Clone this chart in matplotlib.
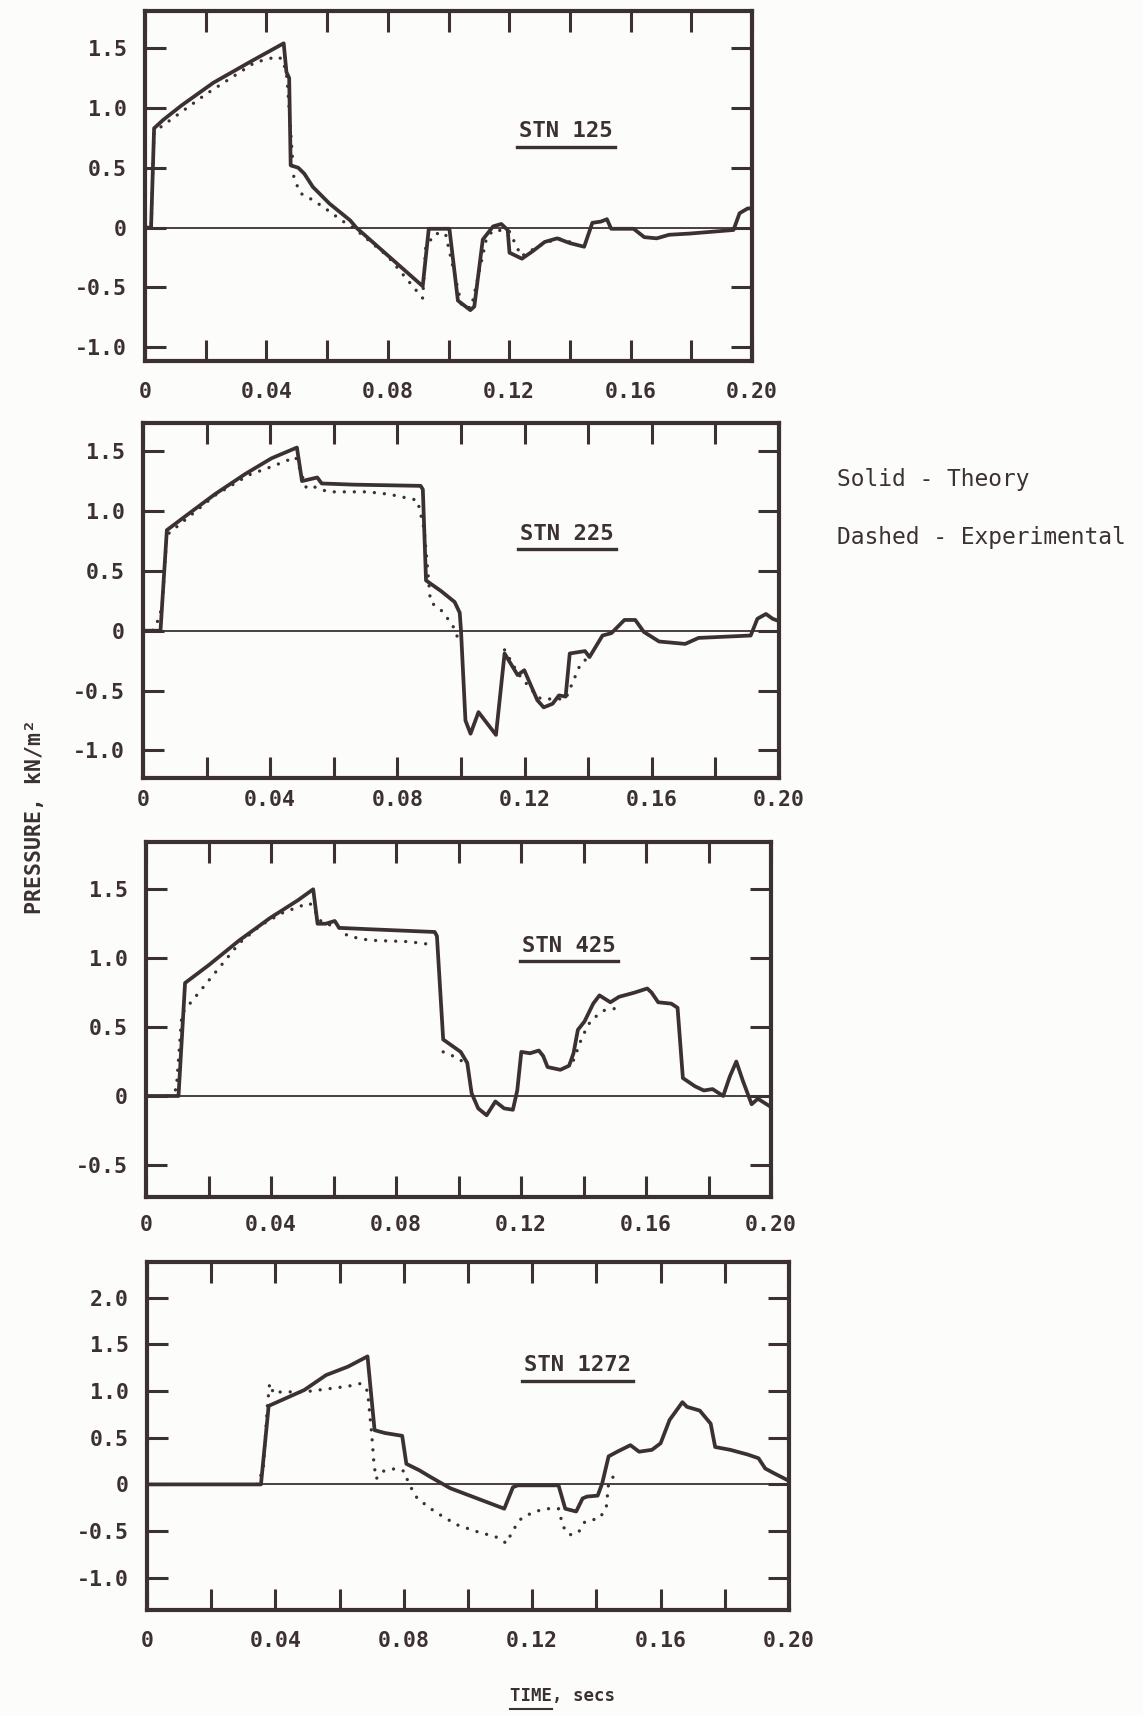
import numpy as np
import matplotlib
matplotlib.use('Agg')
import matplotlib.pyplot as plt
from matplotlib.lines import Line2D

nan = np.nan

# STN 125
t_th_125 = [0.0, 0.002, 0.003, 0.006, 0.012, 0.0225, 0.035, 0.0457, 0.0466, 0.0475, 0.048, 0.0505,
            0.0525, 0.0553, 0.0608, 0.0676, 0.0696, 0.0915, 0.0935, 0.1003, 0.1031, 0.1072, 0.1085,
            0.1113, 0.1147, 0.1174, 0.1195, 0.1201, 0.1242, 0.1276, 0.1317, 0.1358, 0.1400, 0.1447,
            0.1474, 0.1502, 0.1522, 0.1536, 0.1610, 0.1645, 0.1686, 0.1727, 0.1795, 0.1939, 0.1959,
            0.1986, 0.2000]
p_th_125 = [0.0, 0.0, 0.83, 0.90, 1.02, 1.21, 1.39, 1.54, 1.30, 1.25, 0.52, 0.50,
            0.45, 0.34, 0.20, 0.06, 0.0, -0.49, -0.01, -0.01, -0.61, -0.69, -0.66,
            -0.10, 0.01, 0.03, -0.02, -0.21, -0.26, -0.20, -0.12, -0.09, -0.13, -0.16,
            0.04, 0.05, 0.07, -0.01, -0.01, -0.08, -0.09, -0.06, -0.05, -0.02, 0.12,
            0.16, 0.16]
t_ex_125 = [0.0, 0.002, 0.003, 0.0198, 0.0362, 0.0437, 0.0455, 0.0468, 0.049, 0.051, 0.0553, 0.0594,
            0.0648, 0.0696, 0.080, 0.0915, 0.0925, 0.0956, 0.099, 0.1044, 0.1075, 0.1126, 0.1150,
            0.1200, 0.1240, 0.1300, 0.1360, 0.1400]
p_ex_125 = [0.0, 0.0, 0.80, 1.11, 1.38, 1.43, 1.40, 1.25, 0.43, 0.29, 0.23, 0.16,
            0.06, -0.02, -0.24, -0.59, -0.16, -0.05, -0.05, -0.66, -0.67, -0.08, -0.02,
            -0.03, -0.24, -0.15, -0.09, -0.12]

# STN 225
t_th_225 = [0.0, 0.0055, 0.0075, 0.013, 0.0226, 0.0322, 0.0404, 0.0484, 0.050, 0.0548, 0.0562, 0.0664,
            0.0873, 0.0880, 0.089, 0.0938, 0.098, 0.0996, 0.100, 0.1014, 0.103, 0.1055, 0.111,
            0.1137, 0.1178, 0.1199, 0.124, 0.126, 0.1288, 0.1308, 0.1329, 0.1342, 0.139, 0.1404,
            0.1445, 0.1473, 0.1514, 0.1548, 0.1575, 0.1623, 0.1705, 0.1747, 0.1911, 0.1932, 0.1959,
            0.198, 0.200]
p_th_225 = [0.0, 0.0, 0.84, 0.95, 1.14, 1.31, 1.44, 1.53, 1.25, 1.28, 1.23, 1.22,
            1.21, 1.18, 0.42, 0.33, 0.24, 0.15, 0.0, -0.75, -0.86, -0.68, -0.87,
            -0.19, -0.37, -0.33, -0.58, -0.64, -0.61, -0.54, -0.55, -0.19, -0.17, -0.22,
            -0.04, -0.02, 0.09, 0.09, -0.01, -0.09, -0.11, -0.06, -0.04, 0.10, 0.14,
            0.10, 0.08]
t_ex_225 = [0.0, 0.003, 0.0048, 0.006, 0.0075, 0.0226, 0.0332, 0.0404, 0.048, 0.0497, 0.0514, 0.054,
            0.0582, 0.0705, 0.0774, 0.0863, 0.0884, 0.0904, 0.0938, 0.0973, 0.0993, nan,
            0.1137, 0.118, 0.124, 0.1253, 0.130, 0.1329, 0.1377, 0.1404]
p_ex_225 = [0.0, 0.0, 0.09, 0.20, 0.80, 1.13, 1.30, 1.37, 1.45, 1.32, 1.19, 1.20,
            1.16, 1.16, 1.14, 1.09, 0.85, 0.24, 0.17, 0.05, -0.08, nan,
            -0.16, -0.36, -0.55, -0.57, -0.57, -0.57, -0.27, -0.22]

# STN 425
t_th_425 = [0.0, 0.0104, 0.0125, 0.0201, 0.0299, 0.0396, 0.0486, 0.0535, 0.0549, 0.0575, 0.0604, 0.0618,
            0.0715, 0.0924, 0.0931, 0.0951, 0.1007, 0.1028, 0.1042, 0.1063, 0.109, 0.1118, 0.1146,
            0.1174, 0.1188, 0.1201, 0.1229, 0.1257, 0.1271, 0.1285, 0.1326, 0.1354, 0.1368, 0.1382,
            0.1403, 0.1431, 0.1451, 0.1486, 0.1514, 0.1563, 0.1604, 0.1618, 0.1639, 0.1681, 0.1701,
            0.1718, 0.1757, 0.1785, 0.1813, 0.1847, 0.1868, 0.1889, 0.191, 0.1938, 0.1958, 0.1993]
p_th_425 = [0.0, 0.0, 0.82, 0.95, 1.13, 1.29, 1.42, 1.50, 1.25, 1.25, 1.27, 1.22,
            1.21, 1.19, 1.16, 0.41, 0.32, 0.24, 0.02, -0.09, -0.14, -0.04, -0.09,
            -0.10, 0.04, 0.32, 0.31, 0.33, 0.29, 0.21, 0.19, 0.22, 0.31, 0.48,
            0.54, 0.67, 0.73, 0.68, 0.72, 0.75, 0.78, 0.75, 0.68, 0.67, 0.64,
            0.13, 0.07, 0.04, 0.05, 0.00, 0.14, 0.25, 0.11, -0.06, -0.02, -0.07]
t_ex_425 = [0.0069, 0.0083, 0.0097, 0.0115, 0.0299, 0.0368, 0.0438, 0.0521, 0.0535, 0.0549, 0.0563,
            0.0618, 0.0646, 0.0715, 0.084, 0.091, nan, 0.0951, 0.0993, 0.102, nan,
            0.1368, 0.1396, 0.1424, 0.1465, 0.1514]
p_ex_425 = [0.0, 0.02, 0.05, 0.60, 1.11, 1.24, 1.33, 1.40, 1.38, 1.30, 1.26,
            1.22, 1.16, 1.13, 1.12, 1.10, nan, 0.32, 0.28, 0.24, nan,
            0.26, 0.43, 0.55, 0.62, 0.64]

# STN 1272
t_th_1272 = [0.0, 0.0355, 0.0379, 0.049, 0.0558, 0.0626, 0.0687, 0.070, 0.0709, 0.0741, 0.0795, 0.0808,
             0.0849, 0.0883, 0.0944, 0.1113, 0.114, 0.1155, 0.1282, 0.1303, 0.1337, 0.1357, 0.1371,
             0.1404, 0.1418, 0.1438, 0.1465, 0.1506, 0.1533, 0.1573, 0.160, 0.1628, 0.1668, 0.1682,
             0.1722, 0.1756, 0.177, 0.1817, 0.1871, 0.1905, 0.1926, 0.1953, 0.1993]
p_th_1272 = [0.0, 0.0, 0.84, 1.01, 1.17, 1.26, 1.37, 0.90, 0.58, 0.55, 0.52, 0.22,
             0.15, 0.08, -0.04, -0.26, -0.03, -0.01, -0.01, -0.26, -0.29, -0.15, -0.13,
             -0.12, 0.01, 0.30, 0.35, 0.42, 0.35, 0.37, 0.44, 0.69, 0.88, 0.83,
             0.79, 0.65, 0.40, 0.37, 0.32, 0.28, 0.17, 0.12, 0.05]
t_ex_1272 = [0.0341, 0.0362, 0.0375, 0.0382, 0.0395, 0.0416, 0.049, 0.0558, 0.0626, 0.0666, 0.0687,
             0.070, 0.0707, 0.0714, 0.0734, 0.0775, 0.0802, 0.0815, 0.0842, 0.0896, 0.0964, 0.1032,
             0.1086, 0.112, 0.114, 0.1167, 0.1208, 0.1248, 0.1282, 0.1296, 0.1316, 0.1343, 0.1364,
             0.1411, 0.1431, 0.1438, 0.1452, 0.1472]
p_ex_1272 = [0.0, 0.15, 0.84, 1.08, 0.97, 0.99, 0.99, 1.02, 1.05, 1.08, 1.00,
             0.54, 0.22, 0.06, 0.14, 0.17, 0.14, 0.01, -0.15, -0.29, -0.43, -0.51,
             -0.56, -0.63, -0.49, -0.36, -0.29, -0.26, -0.26, -0.45, -0.54, -0.52, -0.40,
             -0.36, -0.24, 0.01, 0.08, 0.14]

x_ticks = [0.0, 0.02, 0.04, 0.06, 0.08, 0.10, 0.12, 0.14, 0.16, 0.18, 0.20]
x_labels = ['0', '', '0.04', '', '0.08', '', '0.12', '', '0.16', '', '0.20']
y_ticks_a = [1.5, 1.0, 0.5, 0.0, -0.5, -1.0]
y_labels_a = ['1.5', '1.0', '0.5', '0', '-0.5', '-1.0']
y_ticks_c = [1.5, 1.0, 0.5, 0.0, -0.5]
y_labels_c = ['1.5', '1.0', '0.5', '0', '-0.5']
y_ticks_d = [2.0, 1.5, 1.0, 0.5, 0.0, -0.5, -1.0]
y_labels_d = ['2.0', '1.5', '1.0', '0.5', '0', '-0.5', '-1.0']
stations = ['STN 125', 'STN 225', 'STN 425', 'STN 1272']

W, H = 1143, 1716
INK = '#3b3131'
BG = '#fcfcfa'
plt.rcParams['font.family'] = ['DejaVu Sans Mono']

fig = plt.figure(figsize=(W / 100, H / 100), dpi=100, facecolor=BG)


def px_axes(l, t, r, b):
    return fig.add_axes([l / W, 1 - b / H, (r - l) / W, (b - t) / H])


panels = [
    # box (l, t, r, b), ylim, yticks, ylabels, xpad, data, label centre, underline y
    ((145, 11, 752, 361), (-1.115, 1.81), y_ticks_a, y_labels_a, 15,
     (t_th_125, p_th_125, t_ex_125, p_ex_125), (566, 131), 147),
    ((143, 423, 779, 778), (-1.23, 1.735), y_ticks_a, y_labels_a, 9,
     (t_th_225, p_th_225, t_ex_225, p_ex_225), (567, 534), 549),
    ((146, 842, 771, 1197), (-0.733, 1.843), y_ticks_c, y_labels_c, 13,
     (t_th_425, p_th_425, t_ex_425, p_ex_425), (569, 946), 961),
    ((147, 1262, 789, 1610), (-1.344, 2.38), y_ticks_d, y_labels_d, 15,
     (t_th_1272, p_th_1272, t_ex_1272, p_ex_1272), (577, 1365), 1381),
]

stn_texts = []
for i, (box, ylim, yt, yl, xpad, data, lab_xy, ul_y) in enumerate(panels):
    ax = px_axes(*box)
    ax.set_facecolor(BG)
    t_th, p_th, t_ex, p_ex = data
    ax.plot(t_ex, p_ex, color=INK, lw=2.4, linestyle=(0, (0.01, 3.0)),
            dash_capstyle='round', zorder=2)
    ax.plot(t_th, p_th, color=INK, lw=2.7, solid_joinstyle='round', zorder=3)
    ax.axhline(0, color=INK, lw=1.3, zorder=1)
    ax.set_xlim(0, 0.2)
    ax.set_ylim(*ylim)
    ax.set_xticks(x_ticks)
    ax.set_xticklabels(x_labels)
    ax.set_yticks(yt)
    ax.set_yticklabels(yl)
    ax.tick_params(direction='in', length=15, width=2.2, color=INK,
                   top=True, right=True, labelcolor=INK, labelsize=15.5)
    ax.tick_params(axis='x', pad=xpad)
    ax.tick_params(axis='y', pad=13)
    for lab in ax.get_xticklabels() + ax.get_yticklabels():
        lab.set_fontweight('bold')
    for s in ax.spines.values():
        s.set_linewidth(3)
        s.set_color(INK)
    txt = fig.text(lab_xy[0] / W, 1 - lab_xy[1] / H, stations[i], ha='center', va='center',
                   fontsize=16, fontweight='bold', color=INK)
    stn_texts.append((txt, ul_y))

fig.text(837 / W, 1 - 479.5 / H, 'Solid - Theory', ha='left', va='center',
         fontsize=16.5, color=INK)
fig.text(837 / W, 1 - 537.5 / H, 'Dashed - Experimental', ha='left', va='center',
         fontsize=16.5, color=INK)

fig.text(35 / W, 1 - 816 / H, 'PRESSURE, kN/m²', rotation=90, ha='center', va='center',
         fontsize=15.5, fontweight='bold', color=INK)
xlab = fig.text(562 / W, 1 - 1696 / H, 'TIME, secs', ha='center', va='center',
                fontsize=12.5, fontweight='bold', color=INK)

# underlines
fig.canvas.draw()
r = fig.canvas.get_renderer()
for txt, ul_y in stn_texts:
    bb = txt.get_window_extent(r)
    fig.add_artist(Line2D([(bb.x0 - 2) / W, (bb.x1 + 2) / W], [1 - ul_y / H, 1 - ul_y / H],
                          transform=fig.transFigure, color=INK, lw=2.4))
bb = xlab.get_window_extent(r)
x_end = bb.x0 + (bb.x1 - bb.x0) * 4 / 10
fig.add_artist(Line2D([bb.x0 / W, x_end / W], [1 - 1709 / H, 1 - 1709 / H],
                      transform=fig.transFigure, color=INK, lw=1.5))

fig.savefig('out.png', dpi=100, facecolor=BG)
